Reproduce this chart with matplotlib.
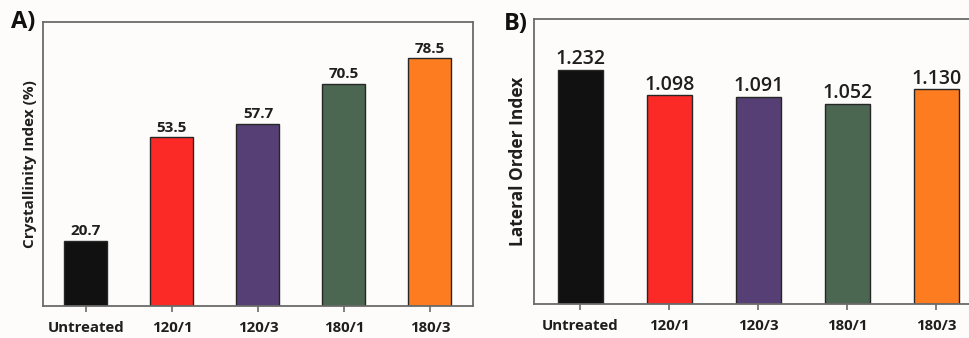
import matplotlib
matplotlib.use("Agg")
import matplotlib.pyplot as plt

plt.rcParams['font.family'] = ['Open Sans', 'DejaVu Sans']

# sample groups (temperature / time) and measured indices
groups = ["Untreated", "120/1", "120/3", "180/1", "180/3"]
crystallinity = [20.7, 53.5, 57.7, 70.5, 78.5]
lateral_order = [1.232, 1.098, 1.091, 1.052, 1.130]
crystallinity_labels = ["20.7", "53.5", "57.7", "70.5", "78.5"]
lateral_labels = ["1.232", "1.098", "1.091", "1.052", "1.130"]

bar_colors = ["#111111", "#fb2a26", "#563f74", "#4b6751", "#fc7c1f"]
frame_color = "#6a6a6a"
text_color = "#1e1e1e"

fig = plt.figure(figsize=(9.7, 3.38), dpi=100)
fig.patch.set_facecolor("#fdfcfb")


def style_axes(ax, show_right=True):
    ax.set_facecolor("#fdfcfb")
    for side in ["left", "bottom", "top", "right"]:
        ax.spines[side].set_color(frame_color)
        ax.spines[side].set_linewidth(1.3)
    ax.spines["right"].set_visible(show_right)
    ax.set_yticks([])
    ax.tick_params(axis="x", direction="out", length=4.5, width=1.2,
                   color=frame_color, pad=6)
    for lbl in ax.get_xticklabels():
        lbl.set_fontweight("bold")
        lbl.set_fontsize(10.8)
        lbl.set_color(text_color)


# A) crystallinity index
axA = fig.add_axes([0.0443, 0.0947, 0.4433, 0.840])
xA = range(len(groups))
axA.bar(xA, crystallinity, width=0.5, color=bar_colors,
        edgecolor="#262626", linewidth=1.0)
axA.set_xlim(-0.5, 4.5)
axA.set_ylim(0, 90)
axA.set_xticks(list(xA))
axA.set_xticklabels(groups)
style_axes(axA)
for i, v in enumerate(crystallinity):
    axA.text(i, v + 0.8, crystallinity_labels[i], ha="center", va="bottom",
             fontsize=11, fontweight="bold", color=text_color)
axA.set_ylabel("Crystallinity Index (%)", fontsize=11, fontweight="bold",
               color=text_color, labelpad=4)
fig.text(0.011, 0.97, "A)", fontsize=17, fontweight="bold", color="#111111",
         va="top", ha="left")

# B) lateral order index
axB = fig.add_axes([0.5505, 0.1006, 0.4608, 0.843])
xB = range(len(groups))
axB.bar(xB, lateral_order, width=0.5, color=bar_colors,
        edgecolor="#262626", linewidth=1.0)
axB.set_xlim(-0.52, 4.5)
axB.set_ylim(0, 1.5)
axB.set_xticks(list(xB))
axB.set_xticklabels(groups)
style_axes(axB, show_right=False)
for i, v in enumerate(lateral_order):
    axB.text(i, v + 0.004, lateral_labels[i], ha="center", va="bottom",
             fontsize=14, fontweight="semibold", color=text_color)
axB.set_ylabel("Lateral Order Index", fontsize=12.5, fontweight="bold",
               color=text_color, labelpad=5)
fig.text(0.519, 0.965, "B)", fontsize=17, fontweight="bold", color="#111111",
         va="top", ha="left")

fig.savefig("out.png", dpi=100, facecolor=fig.get_facecolor())
